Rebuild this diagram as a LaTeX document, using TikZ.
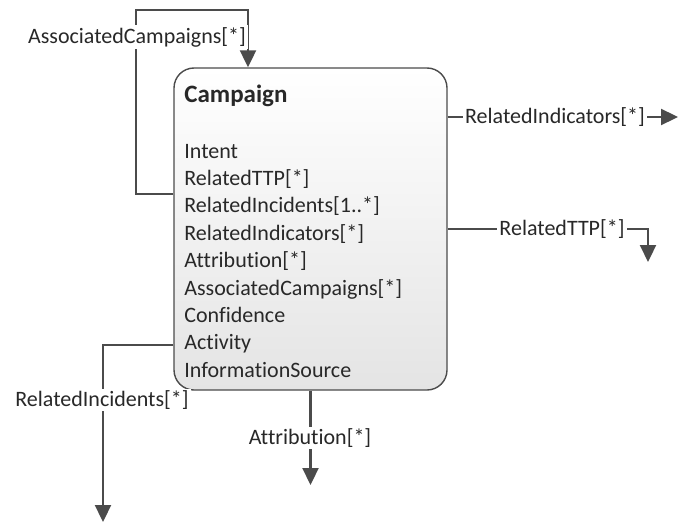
\documentclass[tikz,border=0pt]{standalone}
\usepackage{fontspec}
\setmainfont{Carlito}[Ligatures=NoCommon]
\usetikzlibrary{arrows.meta,positioning}
\definecolor{linegray}{RGB}{75,75,75}
\definecolor{textgray}{RGB}{40,40,40}
\definecolor{boxbottom}{RGB}{228,228,228}

\begin{document}
\begin{tikzpicture}[
        x=0.5pt, y=-0.5pt,
        >={Triangle[length=8.5pt,width=8pt]},
        font=\fontsize{11}{13.5}\selectfont,
        every node/.style={text=textgray},
        classbox/.style={draw=linegray, line width=0.7pt, rounded corners=10pt,
            top color=white, bottom color=boxbottom,
            minimum width=136.5pt, minimum height=161pt, inner sep=0pt},
        attr/.style={inner sep=0pt, text height=9.3pt, text depth=4pt,
            text width=110pt, align=left},
        link/.style={draw=linegray, line width=1.1pt},
        lbl/.style={fill=white, inner sep=1pt}
    ]

    \useasboundingbox (0,0) rectangle (683,524);

%%
% Campaign class box
% title and the list of its fields
    \node (campaign) [classbox] at (310.5,229) {};
    \node (title) [anchor=west, inner sep=0pt,
        font=\fontsize{12.5}{15}\selectfont\bfseries] at (184,96) {Campaign};
    \node (r1) [attr, anchor=north west] at (184,139) {Intent};
    \node (r2) [attr, below=0pt of r1] {RelatedTTP[*]};
    \node (r3) [attr, below=0pt of r2] {RelatedIncidents[1..*]};
    \node (r4) [attr, below=0pt of r3] {RelatedIndicators[*]};
    \node (r5) [attr, below=0pt of r4] {Attribution[*]};
    \node (r6) [attr, below=0pt of r5] {AssociatedCampaigns[*]};
    \node (r7) [attr, below=0pt of r6] {Confidence};
    \node (r8) [attr, below=0pt of r7] {Activity};
    \node (r9) [attr, below=0pt of r8] {InformationSource};

%%
% Relations going out of the box
    \coordinate (acLoop) at (136,10);
    \coordinate (acTop) at (248,10);
    \coordinate (riOut) at (678,117);
    \coordinate (rtTurn) at (648,229);
    \coordinate (rtEnd) at (648,262);
    \coordinate (rcTurn) at (103,345);
    \coordinate (rcEnd) at (103,522);
    \coordinate (atEnd) at (310.5,485);
    \draw[link,->] (campaign.west |- r2.south) -| (acLoop) -- (acTop) -- (campaign.north -| acTop);
    \draw[link,->] (campaign.east |- riOut) -- (riOut);
    \draw[link,->] (campaign.east |- rtTurn) -- (rtTurn) -- (rtEnd);
    \draw[link,->] (campaign.west |- rcTurn) -- (rcTurn) -- (rcEnd);
    \draw[link,->] (campaign.south -| atEnd) -- (atEnd);

%%
% Relation names
    \node (acLabel) [lbl] at (137,37) {AssociatedCampaigns[*]};
    \node (riLabel) [lbl] at (555,117) {RelatedIndicators[*]};
    \node (rtLabel) [lbl] at (562,229) {RelatedTTP[*]};
    \node (rcLabel) [lbl] at (102,400) {RelatedIncidents[*]};
    \node (atLabel) [lbl] at (310,438) {Attribution[*]};

\end{tikzpicture}
\end{document}
